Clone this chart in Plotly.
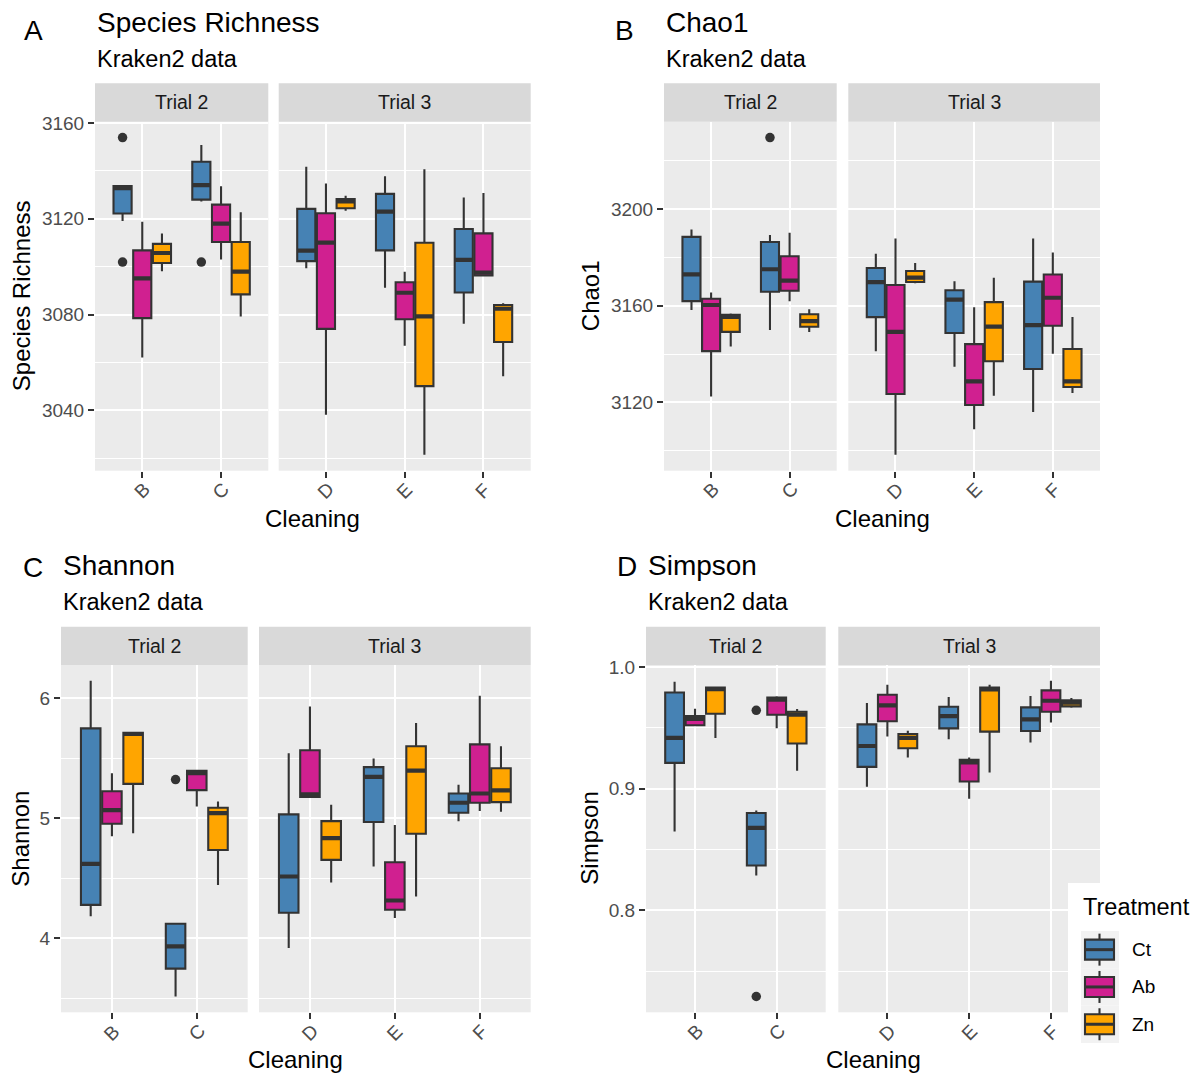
import plotly.graph_objects as go

# ---------------- data ----------------
cleaning = ['B', 'C', 'D', 'E', 'F']
trial_of = ['Trial 2', 'Trial 2', 'Trial 3', 'Trial 3', 'Trial 3']
treatments = ['Ct', 'Ab', 'Zn']
colors = ['#4682B4', '#D02090', '#FFA500']

# each entry: [lower whisker, q1, median, q3, upper whisker] for B..F
richness_ct = [[3119.1, 3122.2, 3132.8, 3133.6, 3133.6], [3127.2, 3128.0, 3134.0, 3143.8, 3150.8],
               [3099.3, 3102.3, 3106.7, 3124.1, 3141.7], [3091.2, 3106.8, 3123.0, 3130.4, 3137.7],
               [3076.1, 3089.2, 3102.8, 3115.7, 3128.9]]
richness_ab = [[3062.1, 3078.5, 3095.1, 3106.8, 3118.7], [3103.0, 3110.3, 3118.0, 3125.9, 3133.6],
               [3038.1, 3074.0, 3110.0, 3122.3, 3134.7], [3067.0, 3078.0, 3089.1, 3093.5, 3097.9],
               [3096.3, 3096.3, 3097.5, 3113.9, 3130.8]]
richness_zn = [[3098.1, 3101.5, 3105.7, 3109.5, 3113.8], [3079.2, 3088.4, 3097.9, 3110.3, 3122.7],
               [3123.3, 3124.4, 3127.2, 3128.2, 3129.6], [3021.4, 3050.1, 3079.2, 3110.0, 3140.7],
               [3054.2, 3068.5, 3082.4, 3084.0, 3084.7]]
richness_out = [('B', 'Ct', 3153.9), ('B', 'Ct', 3101.9), ('C', 'Ct', 3101.9)]

chao1_ct = [[3158.2, 3161.9, 3173.0, 3188.5, 3191.6], [3150.0, 3165.8, 3175.1, 3186.4, 3189.3],
            [3141.2, 3155.3, 3169.8, 3175.6, 3181.5], [3134.8, 3148.7, 3162.5, 3166.4, 3170.1],
            [3116.0, 3133.8, 3152.0, 3170.0, 3187.8]]
chao1_ab = [[3122.4, 3141.2, 3160.3, 3162.9, 3165.5], [3161.9, 3166.2, 3170.4, 3180.5, 3190.2],
            [3098.3, 3123.5, 3149.2, 3168.6, 3187.8], [3108.9, 3118.9, 3128.7, 3144.1, 3159.4],
            [3140.1, 3151.7, 3163.3, 3172.9, 3182.0]]
chao1_zn = [[3143.1, 3149.2, 3155.4, 3156.3, 3156.8], [3149.1, 3151.3, 3153.6, 3156.5, 3158.5],
            [3169.3, 3169.8, 3171.6, 3174.4, 3177.7], [3122.8, 3137.0, 3151.4, 3161.5, 3171.6],
            [3123.9, 3126.4, 3128.7, 3142.1, 3155.3]]
chao1_out = [('C', 'Ct', 3229.6)]

shannon_ct = [[4.185, 4.279, 4.620, 5.748, 6.144], [3.516, 3.748, 3.934, 4.122, 4.122],
              [3.920, 4.213, 4.515, 5.032, 5.541], [4.598, 4.968, 5.344, 5.425, 5.497],
              [4.974, 5.046, 5.129, 5.206, 5.278]]
shannon_ab = [[4.849, 4.954, 5.068, 5.225, 5.375], [5.098, 5.234, 5.375, 5.394, 5.402],
              [5.178, 5.178, 5.198, 5.566, 5.931], [4.169, 4.238, 4.315, 4.633, 4.943],
              [5.060, 5.129, 5.206, 5.615, 6.019]]
shannon_zn = [[4.874, 5.286, 5.701, 5.712, 5.712], [4.445, 4.736, 5.043, 5.087, 5.140],
              [4.465, 4.653, 4.835, 4.976, 5.112], [4.349, 4.871, 5.397, 5.599, 5.793],
              [5.054, 5.134, 5.231, 5.416, 5.599]]
shannon_out = [('C', 'Ct', 5.322)]

simpson_ct = [[0.8648, 0.9213, 0.9418, 0.9792, 0.9880], [0.8287, 0.8369, 0.8678, 0.8801, 0.8822],
              [0.9016, 0.9180, 0.9352, 0.9530, 0.9705], [0.9407, 0.9497, 0.9598, 0.9675, 0.9754],
              [0.9380, 0.9475, 0.9571, 0.9669, 0.9762]]
simpson_ab = [[0.9522, 0.9522, 0.9574, 0.9598, 0.9658], [0.9497, 0.9609, 0.9732, 0.9751, 0.9760],
              [0.9429, 0.9555, 0.9686, 0.9773, 0.9855], [0.8918, 0.9060, 0.9216, 0.9238, 0.9257],
              [0.9544, 0.9634, 0.9724, 0.9809, 0.9888]]
simpson_zn = [[0.9418, 0.9617, 0.9820, 0.9833, 0.9833], [0.9148, 0.9372, 0.9609, 0.9634, 0.9656],
              [0.9257, 0.9333, 0.9418, 0.9451, 0.9478], [0.9134, 0.9470, 0.9817, 0.9833, 0.9855],
              [0.9667, 0.9678, 0.9708, 0.9727, 0.9746]]
simpson_out = [('C', 'Ct', 0.9645), ('C', 'Ct', 0.7292)]

y_ticks_A = [3040, 3080, 3120, 3160]
y_ticks_B = [3120, 3160, 3200]
y_ticks_C = [4, 5, 6]
y_ticks_D = [0.8, 0.9, 1.0]

# ---------------- layout constants ----------------
W, H = 1196, 1075
FONT = 'Liberation Sans, Arial, Helvetica, sans-serif'
TICKSZ = 19


def fx(x):
    return x / W


def fy(y):
    return 1 - y / H


panels = [
    dict(tag='A', title='Species Richness', ylab='Species Richness',
         stats=[richness_ct, richness_ab, richness_zn], outl=richness_out, ticks=y_ticks_A, fmt=None,
         f2=(95, 268.3), f3=(278.7, 530.7), yd=(121.7, 470.7), strip=(83.3, 121.7),
         tagx=33, tagy=30, tx=95, ty=22, sy=59, ylx=21),
    dict(tag='B', title='Chao1', ylab='Chao1',
         stats=[chao1_ct, chao1_ab, chao1_zn], outl=chao1_out, ticks=y_ticks_B, fmt=None,
         f2=(664, 836.7), f3=(848.3, 1100), yd=(121.7, 470.7), strip=(83.3, 121.7),
         tagx=624, tagy=30, tx=664, ty=22, sy=59, ylx=590),
    dict(tag='C', title='Shannon', ylab='Shannon',
         stats=[shannon_ct, shannon_ab, shannon_zn], outl=shannon_out, ticks=y_ticks_C, fmt=None,
         f2=(61, 247.7), f3=(259, 530.7), yd=(665, 1012.3), strip=(626.7, 665),
         tagx=33, tagy=567, tx=61, ty=565, sy=602, ylx=21),
    dict(tag='D', title='Simpson', ylab='Simpson',
         stats=[simpson_ct, simpson_ab, simpson_zn], outl=simpson_out, ticks=y_ticks_D, fmt='.1f',
         f2=(646, 825.7), f3=(838.3, 1100), yd=(665, 1012.3), strip=(626.7, 665),
         tagx=627, tagy=566, tx=646, ty=565, sy=602, ylx=590),
]

offsets = [-0.25, 0.0, 0.25]
BOXW = 0.23
EDGE = '#333333'
LW = 2.1

fig = go.Figure()
layout = dict(width=W, height=H, margin=dict(l=0, r=0, t=0, b=0, pad=0, autoexpand=False),
              autosize=False,
              plot_bgcolor='#EBEBEB', paper_bgcolor='white', showlegend=False,
              font=dict(family=FONT, color='#000000'))
shapes = []
annots = []

for pi, p in enumerate(panels):
    # y range with ggplot 5% expansion computed from data
    allv = [v for s in p['stats'] for row in s for v in (row[0], row[4])] + [o[2] for o in p['outl']]
    lo, hi = min(allv), max(allv)
    ext = 0.05 * (hi - lo)
    yr = [lo - ext, hi + ext]
    step = p['ticks'][1] - p['ticks'][0]
    minor = [p['ticks'][0] - step / 2 + k * step for k in range(len(p['ticks']) + 1)]

    for fi, (trial, dom) in enumerate([('Trial 2', p['f2']), ('Trial 3', p['f3'])]):
        n = pi * 2 + fi + 1
        xa = 'x' if n == 1 else f'x{n}'
        ya = 'y' if n == 1 else f'y{n}'
        cats = [c for c, t in zip(cleaning, trial_of) if t == trial]
        pos = {c: i + 1 for i, c in enumerate(cats)}

        for ti, tname in enumerate(treatments):
            st = p['stats'][ti]
            xs, lf, q1, md, q3, uf = [], [], [], [], [], []
            for ci, c in enumerate(cleaning):
                if trial_of[ci] != trial:
                    continue
                xs.append(pos[c] + offsets[ti])
                lf.append(st[ci][0]); q1.append(st[ci][1]); md.append(st[ci][2])
                q3.append(st[ci][3]); uf.append(st[ci][4])
            fig.add_trace(go.Box(x=xs, lowerfence=lf, q1=q1, median=md, q3=q3, upperfence=uf,
                                 width=BOXW, whiskerwidth=0, fillcolor=colors[ti],
                                 line=dict(color=EDGE, width=LW), boxpoints=False,
                                 hoverinfo='skip', xaxis=xa, yaxis=ya))
            # thick median bars (ggplot fatten)
            mx, my = [], []
            for x0, m in zip(xs, md):
                mx += [x0 - BOXW / 2, x0 + BOXW / 2, None]
                my += [m, m, None]
            fig.add_trace(go.Scatter(x=mx, y=my, mode='lines', line=dict(color=EDGE, width=4.2),
                                     hoverinfo='skip', xaxis=xa, yaxis=ya))
        # outliers
        ox, oy = [], []
        for c, t, v in p['outl']:
            if c in pos:
                ox.append(pos[c] + offsets[treatments.index(t)])
                oy.append(v)
        if ox:
            fig.add_trace(go.Scatter(x=ox, y=oy, mode='markers',
                                     marker=dict(color=EDGE, size=9.5, line=dict(width=0)),
                                     hoverinfo='skip', xaxis=xa, yaxis=ya))

        xkey = 'xaxis' if n == 1 else f'xaxis{n}'
        ykey = 'yaxis' if n == 1 else f'yaxis{n}'
        layout[xkey] = dict(domain=[fx(dom[0]), fx(dom[1])], anchor=ya, automargin=False,
                            range=[0.4, len(cats) + 0.6], tickmode='array',
                            tickvals=list(range(1, len(cats) + 1)), ticktext=cats,
                            showticklabels=False, ticks='outside', ticklen=6, tickwidth=1.8,
                            tickcolor=EDGE, showgrid=True, gridcolor='white', gridwidth=1.6,
                            zeroline=False, showline=False)
        # rotated category labels (45 degrees) under each tick
        for c, xv in pos.items():
            annots.append(dict(text=c, xref=xa, yref='paper', x=xv, y=fy(p['yd'][1] + 20),
                               textangle=-45, xanchor='center', yanchor='middle', showarrow=False,
                               font=dict(size=TICKSZ, color='#4D4D4D', family=FONT)))
        yax = dict(domain=[fy(p['yd'][1]), fy(p['yd'][0])], anchor=xa, range=yr, automargin=False,
                   tickmode='array', tickvals=p['ticks'], showgrid=True, gridcolor='white',
                   gridwidth=1.6, zeroline=False, showline=False,
                   minor=dict(tickmode='array', tickvals=minor, showgrid=True,
                              gridcolor='white', gridwidth=0.8, ticks=''),
                   tickfont=dict(size=TICKSZ, color='#4D4D4D', family=FONT))
        if p['fmt']:
            yax['tickformat'] = p['fmt']
        if fi == 0:
            yax.update(ticks='outside', ticklen=6, tickwidth=1.8, tickcolor=EDGE,
                       showticklabels=True)
        else:
            yax.update(ticks='', showticklabels=False,
                       matches=('y' if n - 1 == 1 else f'y{n-1}'))
        layout[ykey] = yax

        # strip
        shapes.append(dict(type='rect', xref='paper', yref='paper',
                           x0=fx(dom[0]), x1=fx(dom[1]), y0=fy(p['strip'][1]), y1=fy(p['strip'][0]),
                           fillcolor='#D9D9D9', line=dict(width=0), layer='below'))
        annots.append(dict(text=trial, xref='paper', yref='paper',
                           x=fx((dom[0] + dom[1]) / 2), y=fy((p['strip'][0] + p['strip'][1]) / 2),
                           xanchor='center', yanchor='middle', showarrow=False,
                           font=dict(size=19.5, color='#1A1A1A', family=FONT)))

    # titles, tag, axis titles
    annots.append(dict(text=p['tag'], xref='paper', yref='paper', x=fx(p['tagx']), y=fy(p['tagy']),
                       xanchor='center', yanchor='middle', showarrow=False,
                       font=dict(size=28, color='black', family=FONT)))
    annots.append(dict(text=p['title'], xref='paper', yref='paper', x=fx(p['tx']), y=fy(p['ty']),
                       xanchor='left', yanchor='middle', showarrow=False,
                       font=dict(size=28, color='black', family=FONT)))
    annots.append(dict(text='Kraken2 data', xref='paper', yref='paper', x=fx(p['tx']), y=fy(p['sy']),
                       xanchor='left', yanchor='middle', showarrow=False,
                       font=dict(size=23.5, color='black', family=FONT)))
    annots.append(dict(text=p['ylab'], xref='paper', yref='paper', x=fx(p['ylx']),
                       y=fy((p['yd'][0] + p['yd'][1]) / 2), textangle=-90,
                       xanchor='center', yanchor='middle', showarrow=False,
                       font=dict(size=24, color='black', family=FONT)))
    annots.append(dict(text='Cleaning', xref='paper', yref='paper',
                       x=fx((p['f2'][0] + p['f3'][1]) / 2), y=fy(p['yd'][1] + 47.5),
                       xanchor='center', yanchor='middle', showarrow=False,
                       font=dict(size=24, color='black', family=FONT)))

# ---------------- legend (drawn) ----------------
shapes.append(dict(type='rect', xref='paper', yref='paper', x0=fx(1068), x1=fx(1196),
                   y0=fy(1053), y1=fy(883), fillcolor='white', line=dict(width=0), layer='above'))
annots.append(dict(text='Treatment', xref='paper', yref='paper', x=fx(1081), y=fy(907),
                   xanchor='left', yanchor='middle', showarrow=False,
                   font=dict(size=23.5, color='black', family=FONT)))
key_top = 931.0
key_h = 37.3
for ti, tname in enumerate(treatments):
    y0 = key_top + ti * key_h
    c = y0 + key_h / 2
    shapes.append(dict(type='rect', xref='paper', yref='paper', x0=fx(1081), x1=fx(1119),
                       y0=fy(y0 + key_h), y1=fy(y0), fillcolor='#F2F2F2', line=dict(width=0),
                       layer='above'))
    shapes.append(dict(type='line', xref='paper', yref='paper', x0=fx(1099.5), x1=fx(1099.5),
                       y0=fy(c + 16), y1=fy(c - 16), line=dict(color=EDGE, width=LW), layer='above'))
    shapes.append(dict(type='rect', xref='paper', yref='paper', x0=fx(1085), x1=fx(1114),
                       y0=fy(c + 10), y1=fy(c - 10), fillcolor=colors[ti],
                       line=dict(color=EDGE, width=LW), layer='above'))
    shapes.append(dict(type='line', xref='paper', yref='paper', x0=fx(1085), x1=fx(1114),
                       y0=fy(c), y1=fy(c), line=dict(color=EDGE, width=3), layer='above'))
    annots.append(dict(text=tname, xref='paper', yref='paper', x=fx(1130), y=fy(c),
                       xanchor='left', yanchor='middle', showarrow=False,
                       font=dict(size=19, color='black', family=FONT)))

layout['shapes'] = shapes
layout['annotations'] = annots
fig.update_layout(**layout)
fig.write_html('out.html')
